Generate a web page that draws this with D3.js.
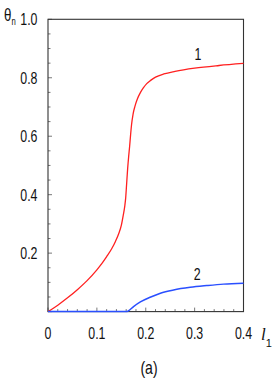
<!DOCTYPE html>
<html>
<head>
<meta charset="utf-8">
<script src="https://cdn.jsdelivr.net/npm/d3@7"></script>
<style>
  body { margin: 0; background: #fff; }
  svg { display: block; }
  .lbl { font-family: 'Liberation Sans', Arial, sans-serif; font-size: 16.5px; fill: #111; }
</style>
</head>
<body>
<div id="chart"></div>
<script>
// curve 1 (red)
var x1 = [0, 0.02, 0.04, 0.06, 0.08, 0.1, 0.11, 0.12, 0.13, 0.138, 0.145, 0.15, 0.154, 0.157, 0.159, 0.161, 0.163, 0.165, 0.167, 0.169, 0.171, 0.174, 0.178, 0.183, 0.189, 0.195, 0.202, 0.21, 0.22, 0.237, 0.26, 0.3, 0.35, 0.4];
var y1 = [0, 0.022, 0.047, 0.075, 0.106, 0.143, 0.164, 0.188, 0.214, 0.24, 0.268, 0.295, 0.33, 0.36, 0.39, 0.44, 0.49, 0.53, 0.565, 0.605, 0.64, 0.675, 0.703, 0.728, 0.749, 0.765, 0.78, 0.791, 0.802, 0.813, 0.822, 0.833, 0.842, 0.849];
// curve 2 (blue)
var x2 = [0, 0.1, 0.16, 0.165, 0.175, 0.189, 0.209, 0.23, 0.257, 0.291, 0.325, 0.359, 0.4];
var y2 = [0, 0, 0, 0.003, 0.017, 0.033, 0.049, 0.063, 0.074, 0.083, 0.089, 0.094, 0.097];

var xTicks = [0, 0.1, 0.2, 0.3, 0.4];
var xTickLabels = ['0', '0.1', '0.2', '0.3', '0.4'];
var yTicks = [0.2, 0.4, 0.6, 0.8, 1.0];
var yTickLabels = ['0.2', '0.4', '0.6', '0.8', '1.0'];

var W = 273, H = 382;
var margin = { top: 19.3, right: 29.5, bottom: 70.4, left: 48 },
  width = W - margin.left - margin.right,
  height = H - margin.top - margin.bottom;

var svg = d3.select('#chart')
  .append('svg')
  .attr('width', W)
  .attr('height', H);

var g = svg.append('g')
  .attr('transform', 'translate(' + margin.left + ',' + margin.top + ')');

var x = d3.scaleLinear().domain([0, 0.4]).range([0, width]);
var y = d3.scaleLinear().domain([0, 1]).range([height, 0]);

// minor + major ticks, drawn inward
var xMinor = d3.range(0, 0.4001, 0.02);
var yMinor = d3.range(0, 1.0001, 0.05);

g.selectAll('.xminor')
  .data(xMinor)
  .enter()
  .append('line')
  .attr('x1', function(d) { return x(d); })
  .attr('x2', function(d) { return x(d); })
  .attr('y1', height)
  .attr('y2', function(d, i) { return height - (i % 5 === 0 ? 4 : 2.5); })
  .attr('stroke', '#555')
  .attr('stroke-width', 0.8);

g.selectAll('.yminor')
  .data(yMinor)
  .enter()
  .append('line')
  .attr('x1', 0)
  .attr('x2', function(d, i) { return i % 4 === 0 ? 4 : 2.5; })
  .attr('y1', function(d) { return y(d); })
  .attr('y2', function(d) { return y(d); })
  .attr('stroke', '#555')
  .attr('stroke-width', 0.8);

// frame
g.append('rect')
  .attr('x', 0)
  .attr('y', 0)
  .attr('width', width)
  .attr('height', height)
  .attr('fill', 'none')
  .attr('stroke', '#333')
  .attr('stroke-width', 1.1);

// tick labels (narrow, tall like the original)
g.selectAll('.xlab')
  .data(xTicks)
  .enter()
  .append('text')
  .attr('class', 'lbl')
  .attr('transform', function(d) {
    return 'translate(' + x(d) + ',' + (height + 27) + ') scale(0.75,1.03)';
  })
  .attr('text-anchor', 'middle')
  .text(function(d, i) { return xTickLabels[i]; });

g.selectAll('.ylab')
  .data(yTicks)
  .enter()
  .append('text')
  .attr('class', 'lbl')
  .attr('transform', function(d) {
    return 'translate(-10.5,' + (y(d) + 6) + ') scale(0.75,1.03)';
  })
  .attr('text-anchor', 'end')
  .text(function(d, i) { return yTickLabels[i]; });

// curves
var line = d3.line()
  .x(function(d) { return x(d[0]); })
  .y(function(d) { return y(d[1]); })
  .curve(d3.curveMonotoneX);

g.append('path')
  .datum(d3.zip(x1, y1))
  .attr('fill', 'none')
  .attr('stroke', '#ff2020')
  .attr('stroke-width', 1.3)
  .attr('d', line);

g.append('path')
  .datum(d3.zip(x2, y2))
  .attr('fill', 'none')
  .attr('stroke', '#2a4fff')
  .attr('stroke-width', 1.5)
  .attr('d', line);

// curve labels
g.append('text')
  .attr('class', 'lbl')
  .attr('transform', 'translate(' + x(0.307) + ',' + y(0.862) + ') scale(0.75,1.03)')
  .attr('text-anchor', 'middle')
  .text('1');

g.append('text')
  .attr('class', 'lbl')
  .attr('transform', 'translate(' + x(0.305) + ',' + y(0.107) + ') scale(0.75,1.03)')
  .attr('text-anchor', 'middle')
  .text('2');

// axis titles
var yt = svg.append('text')
  .attr('class', 'lbl')
  .attr('transform', 'translate(4,21) scale(0.7,1)');
yt.append('tspan')
  .style('font-size', '19px')
  .text('\u03b8');
yt.append('tspan')
  .attr('dy', 4)
  .style('font-size', '11px')
  .text('n');

var xt = svg.append('text')
  .attr('class', 'lbl')
  .attr('x', 261)
  .attr('y', 340);
xt.append('tspan')
  .style('font-style', 'italic')
  .style('font-family', 'Liberation Serif, serif')
  .style('font-size', '17px')
  .text('l');
xt.append('tspan')
  .attr('dy', 7)
  .style('font-size', '11px')
  .text('1');

svg.append('text')
  .attr('class', 'lbl')
  .attr('transform', 'translate(149,374) scale(0.8,1.05)')
  .attr('text-anchor', 'middle')
  .style('font-size', '17.5px')
  .text('(a)');
</script>
</body>
</html>
